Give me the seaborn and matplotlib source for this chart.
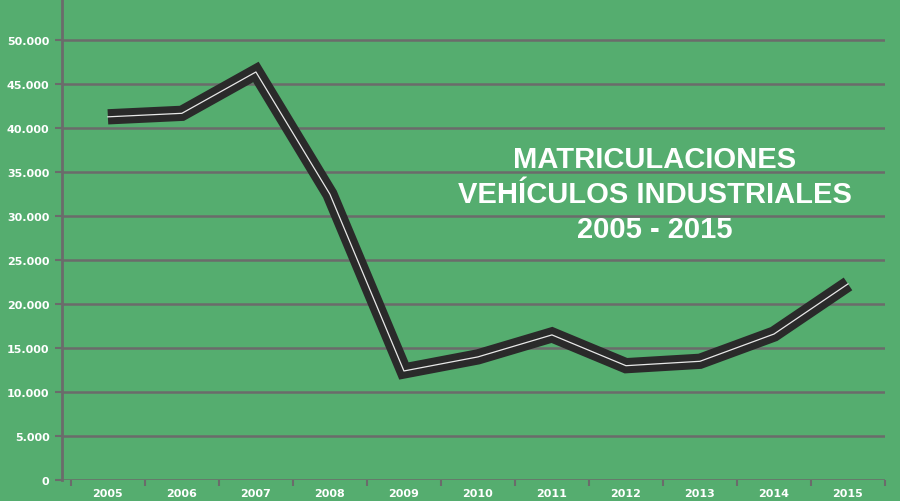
import matplotlib
matplotlib.use("Agg")
import matplotlib.pyplot as plt
import seaborn as sns
import pandas as pd

years = ["2005", "2006", "2007", "2008", "2009", "2010", "2011", "2012", "2013", "2014", "2015"]
matriculaciones = [41300, 41700, 46400, 32500, 12400, 14000, 16500, 13000, 13500, 16600, 22300]
yticks = [0, 5000, 10000, 15000, 20000, 25000, 30000, 35000, 40000, 45000, 50000]
ytick_labels = ["0", "5.000", "10.000", "15.000", "20.000", "25.000", "30.000",
                "35.000", "40.000", "45.000", "50.000"]

df = pd.DataFrame({"year": range(len(years)), "value": matriculaciones})

bg = "#55ad6f"
axis_col = "#6b6b6b"

fig = plt.figure(figsize=(9, 5.02), dpi=100, facecolor=bg)
ax = fig.add_axes([62 / 900, 21 / 502, 823 / 900, 481 / 502])
ax.set_facecolor(bg)

# road-style line: thick dark band with thin white centre stripe
sns.lineplot(data=df, x="year", y="value", ax=ax, color="#2a2a2a", linewidth=11,
             solid_joinstyle="miter", solid_capstyle="butt")
sns.lineplot(data=df, x="year", y="value", ax=ax, color="#e8e8e8", linewidth=0.9)

ax.set_xlim(-0.62, 10.47)
ax.set_ylim(0, 54700)
ax.set_yticks(yticks)
ax.set_yticklabels(ytick_labels)
ax.set_xticks(range(len(years)))
ax.set_xticklabels(years)
ax.set_xticks([i + 0.5 for i in range(-1, len(years))], minor=True)
ax.tick_params(axis="x", which="major", length=0, pad=6)
ax.tick_params(axis="x", which="minor", length=4, color=axis_col, width=1.5)
ax.tick_params(axis="y", length=5, color=axis_col, width=1.5, pad=4)
for lab in ax.get_xticklabels() + ax.get_yticklabels():
    lab.set_color("white")
    lab.set_fontweight("bold")
    lab.set_fontsize(8)

ax.grid(axis="y", color=axis_col, linewidth=1.8)
ax.set_axisbelow(True)
for side in ["top", "right", "bottom"]:
    ax.spines[side].set_visible(False)
ax.spines["left"].set_color(axis_col)
ax.spines["left"].set_linewidth(2)
ax.set_xlabel("")
ax.set_ylabel("")

fig.text(655 / 900, 1 - 195 / 502, "MATRICULACIONES\nVEHÍCULOS INDUSTRIALES\n2005 - 2015",
         ha="center", va="center", color="white", fontsize=21, fontweight="bold",
         family="Liberation Sans", linespacing=1.3)

fig.savefig("out.png", dpi=100, facecolor=bg)
